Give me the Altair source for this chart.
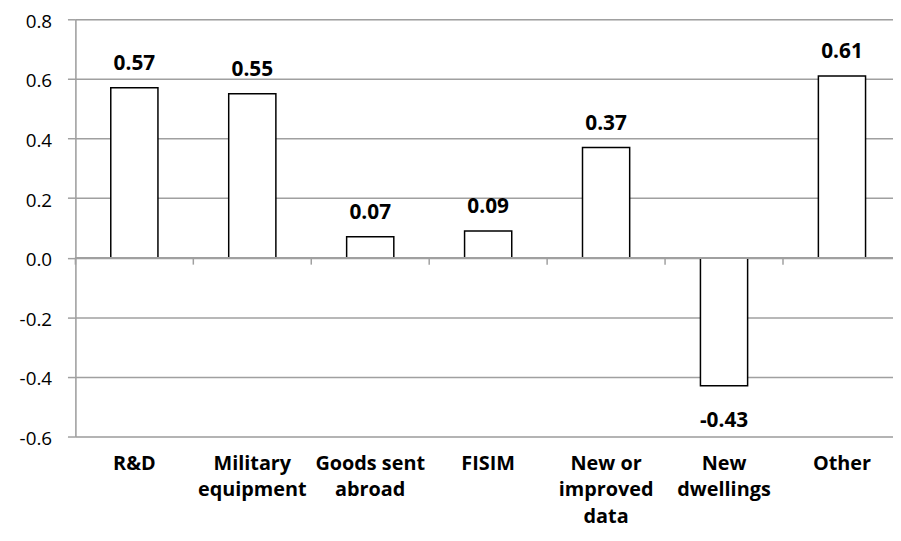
import altair as alt
import pandas as pd

categories = ["R&D", "Military\nequipment", "Goods sent\nabroad", "FISIM",
              "New or\nimproved\ndata", "New\ndwellings", "Other"]
values = [0.57, 0.55, 0.07, 0.09, 0.37, -0.43, 0.61]
y_ticks = [-0.6, -0.4, -0.2, 0.0, 0.2, 0.4, 0.6, 0.8]

df = pd.DataFrame({"category": categories, "value": values})

FONT = "Open Sans"
GRID = "#a0a0a0"
MINUS = "\u2212"

x_scale = alt.Scale(domain=categories, range=[0, 833], paddingInner=0.6, paddingOuter=0.3)
y_scale = alt.Scale(domain=[-0.6, 0.8], nice=False, zero=False)

base = alt.Chart(df)

bars = base.mark_bar(fill="white", stroke="black", strokeWidth=1.5).encode(
    x=alt.X("category:N", scale=x_scale, sort=categories,
            axis=alt.Axis(title=None, domain=False, ticks=False, grid=False,
                          labelAngle=0, labelFont=FONT, labelFontSize=20,
                          labelFontWeight="bold", labelColor="black",
                          labelPadding=17, labelLineHeight=27,
                          labelExpr="split(datum.label, '\\n')")),
    y=alt.Y("value:Q", scale=y_scale,
            axis=alt.Axis(title=None, values=y_ticks, format=".1f",
                          labelExpr="replace(datum.label, '" + MINUS + "', '-')",
                          grid=True, gridColor=GRID, gridWidth=1.5,
                          domainColor=GRID, domainWidth=1.5,
                          tickColor=GRID, tickWidth=1.5, tickSize=8,
                          labelFont=FONT, labelFontSize=19, labelColor="black",
                          labelPadding=16, labelOffset=2)),
)

zero_line = base.mark_rule(color=GRID, strokeWidth=1.5).encode(y=alt.datum(0))

ticks = base.mark_rule(color=GRID, strokeWidth=1.5, xOffset=-59.5, y2Offset=7).encode(
    x=alt.X("category:N", scale=x_scale, sort=categories),
    y=alt.datum(0),
    y2=alt.datum(0),
)

labels = base.transform_calculate(
    lbl="replace(format(datum.value, '.2f'), '" + MINUS + "', '-')"
)

pos_text = labels.transform_filter("datum.value >= 0").mark_text(
    baseline="alphabetic", dy=-18, font=FONT, fontSize=21, fontWeight="bold", color="black"
).encode(x=alt.X("category:N", scale=x_scale, sort=categories), y="value:Q", text="lbl:N")

neg_text = labels.transform_filter("datum.value < 0").mark_text(
    baseline="alphabetic", dy=42, font=FONT, fontSize=21, fontWeight="bold", color="black"
).encode(x=alt.X("category:N", scale=x_scale, sort=categories), y="value:Q", text="lbl:N")

chart = alt.layer(bars, zero_line, ticks, pos_text, neg_text).properties(
    width=825, height=421,
    autosize=alt.AutoSizeParams(type="none"),
    padding={"left": 68, "top": 9, "right": 0, "bottom": 100},
).configure_view(stroke=None).configure(background="white")

chart.save("out.html", embed_options={"renderer": "svg", "actions": False})
